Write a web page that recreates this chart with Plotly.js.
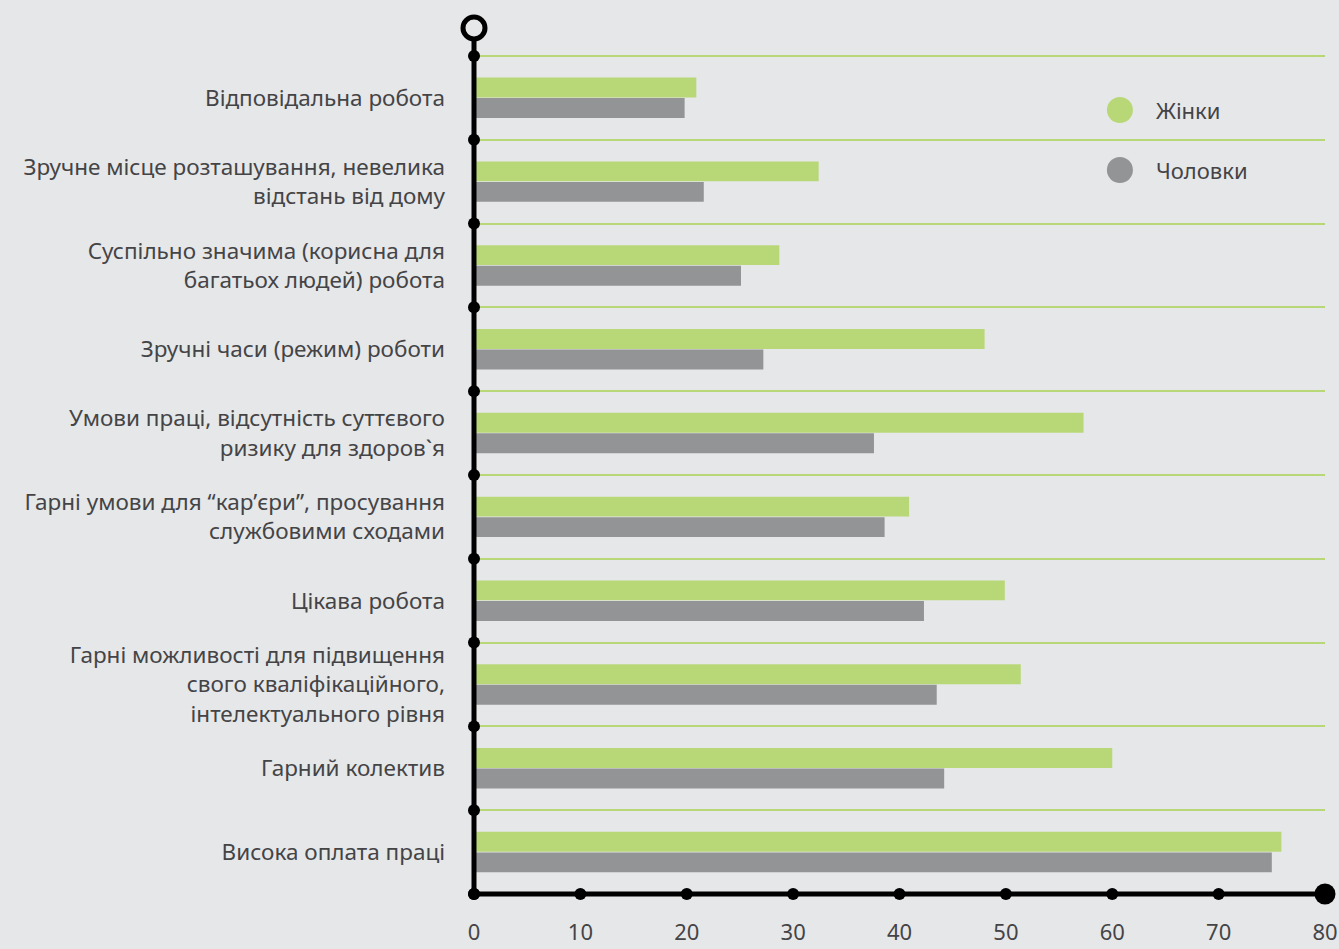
<!DOCTYPE html>
<html>
<head>
<meta charset="utf-8">
<script src="https://cdn.plot.ly/plotly-3.0.1.min.js"></script>
<style>html,body{margin:0;padding:0;background:#e6e7e9;}</style>
</head>
<body>
<div id="chart" style="width:1339px;height:949px;"></div>
<script>
const categories = [
  "Відповідальна робота",
  "Зручне місце розташування, невелика<br>відстань від дому",
  "Суспільно значима (корисна для<br>багатьох людей) робота",
  "Зручні часи (режим) роботи",
  "Умови праці, відсутність суттєвого<br>ризику для здоров`я",
  "Гарні умови для “кар’єри”, просування<br>службовими сходами",
  "Цікава робота",
  "Гарні можливості для підвищення<br>свого кваліфікаційного,<br>інтелектуального рівня",
  "Гарний колектив",
  "Висока оплата праці"
];
const women = [20.9, 32.4, 28.7, 48.0, 57.3, 40.9, 49.9, 51.4, 60.0, 75.9];
const men   = [19.8, 21.6, 25.1, 27.2, 37.6, 38.6, 42.3, 43.5, 44.2, 75.0];
const seriesNames = ["Жінки", "Чоловки"];
const xTicks = [0, 10, 20, 30, 40, 50, 60, 70, 80];

const pos = categories.map((c, i) => i);
const boundaries = categories.map((c, i) => i - 0.5);
const nCat = categories.length;
const bottom = nCat - 0.5;
const topY = -0.833;

const bg = "#e6e7e9";
const green = "#b8d878";
const gray = "#939496";
const textColor = "#444446";
const font = "Noto Sans, Open Sans, sans-serif";

const traces = [
  {type: "bar", orientation: "h", name: seriesNames[0], y: pos, x: women,
   marker: {color: green}, hoverinfo: "x"},
  {type: "bar", orientation: "h", name: seriesNames[1], y: pos, x: men,
   marker: {color: gray}, hoverinfo: "x"},
  // dots on y axis at category boundaries
  {type: "scatter", mode: "markers", x: boundaries.concat([bottom]).map(() => 0),
   y: boundaries.concat([bottom]), marker: {color: "black", size: 12},
   cliponaxis: false, hoverinfo: "skip"},
  // dots on x axis at ticks
  {type: "scatter", mode: "markers", x: xTicks.slice(0, -1),
   y: xTicks.slice(0, -1).map(() => bottom), marker: {color: "black", size: 12},
   cliponaxis: false, hoverinfo: "skip"},
  // end dot
  {type: "scatter", mode: "markers", x: [xTicks[xTicks.length - 1]], y: [bottom],
   marker: {color: "black", size: 21}, cliponaxis: false, hoverinfo: "skip"},
  // top open circle
  {type: "scatter", mode: "markers", x: [0], y: [topY],
   marker: {color: bg, size: 22, line: {color: "black", width: 5}},
   cliponaxis: false, hoverinfo: "skip"}
];

const lx = 0.759, ly1 = 0.9053, ly2 = 0.836, tx = 0.799;
const layout = {
  width: 1339, height: 949,
  paper_bgcolor: bg, plot_bgcolor: bg,
  margin: {l: 474, r: 14, t: 28, b: 55},
  barmode: "group", bargap: 0.51, bargroupgap: 0.03,
  showlegend: false,
  font: {family: font, color: textColor, size: 20},
  xaxis: {range: [0, 80], tickvals: xTicks, ticks: "", showgrid: false,
          zeroline: false, showline: false, ticklabelstandoff: 23,
          tickfont: {size: 22, color: textColor, family: font}},
  yaxis: {range: [bottom, topY], tickvals: pos, ticktext: categories, ticks: "",
          showgrid: false, zeroline: false, showline: false, ticklabelstandoff: 28,
          tickfont: {size: 22.5, color: textColor, family: font},
          minor: {tickvals: boundaries, showgrid: true, gridcolor: green, gridwidth: 2, ticks: ""}},
  shapes: [
    {type: "line", xref: "paper", yref: "paper", x0: 0, x1: 0, y0: 0, y1: 1 - 13 / 866,
     line: {color: "black", width: 5}, layer: "above"},
    {type: "line", xref: "paper", yref: "paper", x0: 0, x1: 1, y0: 0, y1: 0,
     line: {color: "black", width: 5}, layer: "above"},
    {type: "circle", xref: "paper", yref: "paper", xsizemode: "pixel", ysizemode: "pixel",
     xanchor: lx, yanchor: ly1, x0: -13, x1: 13, y0: -13, y1: 13,
     fillcolor: green, line: {width: 0}},
    {type: "circle", xref: "paper", yref: "paper", xsizemode: "pixel", ysizemode: "pixel",
     xanchor: lx, yanchor: ly2, x0: -13, x1: 13, y0: -13, y1: 13,
     fillcolor: gray, line: {width: 0}}
  ],
  annotations: [
    {xref: "paper", yref: "paper", x: tx, y: ly1, text: seriesNames[0], showarrow: false,
     xanchor: "left", yanchor: "middle", font: {size: 22, color: textColor, family: font}},
    {xref: "paper", yref: "paper", x: tx, y: ly2, text: seriesNames[1], showarrow: false,
     xanchor: "left", yanchor: "middle", font: {size: 22, color: textColor, family: font}}
  ]
};

Plotly.newPlot("chart", traces, layout, {displayModeBar: false, staticPlot: true});
</script>
</body>
</html>
